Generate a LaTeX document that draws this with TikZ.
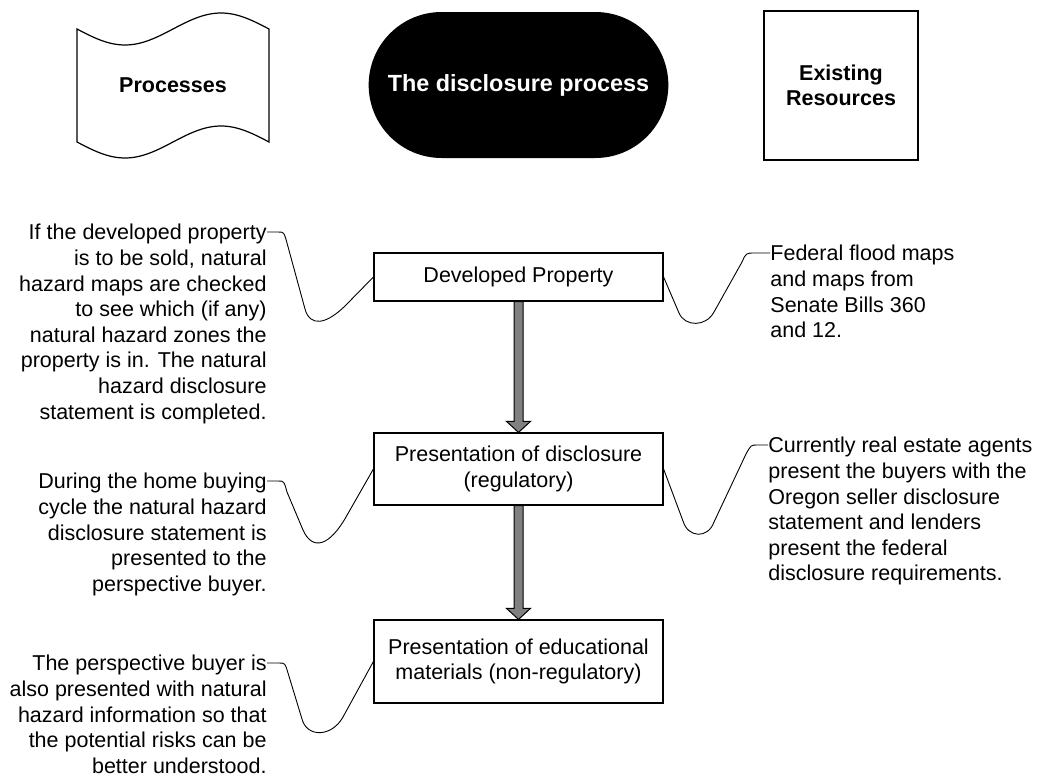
\documentclass[tikz,border=0pt]{standalone}
\usepackage{fontspec}
\setmainfont{Liberation Sans}
\usetikzlibrary{calc}
\usetikzlibrary{positioning}
\usetikzlibrary{shapes.misc}

% grey block arrow from the bottom of one box to the top of the next
\newcommand{\flowarrow}[2]{%
  \filldraw[fill=gray, draw=black, line width=0.5pt]
    ($(#1.south)+(-4.5,0)$) -- ($(#2.north)+(-4.5,-11)$) -- ($(#2.north)+(-12,-11)$)
    -- (#2.north) -- ($(#2.north)+(12,-11)$) -- ($(#2.north)+(4.5,-11)$)
    -- ($(#1.south)+(4.5,0)$) -- cycle;}

\begin{document}
\begin{tikzpicture}[x=0.5pt,y=-0.5pt,
  txt/.style={font=\fontsize{10.75pt}{12.8pt}\selectfont},
  toplabel/.style={font=\fontsize{10.75pt}{12.8pt}\selectfont\bfseries, align=center},
  procbox/.style={draw, line width=0.6pt, minimum width=144.5pt, align=center, txt},
  lnote/.style={txt, align=right, inner sep=0pt},
  rnote/.style={txt, align=left, inner sep=0pt},
  noteline/.style={line width=0.45pt}]

  \useasboundingbox (0,0) rectangle (1044,776);

  % top row
  \node[toplabel] (proc) at (173,85) {Processes};
  \draw[line width=0.6pt] (77,29) sin (125,45) cos (173,29) sin (221,13) cos (269,29)
    -- (269,142) sin (221,126) cos (173,142) sin (125,158) cos (77,142) -- cycle;

  \node[toplabel, font=\fontsize{11.7pt}{14pt}\selectfont\bfseries, rounded rectangle,
    fill=black, text=white, minimum width=156.5pt, minimum height=73pt] (start) at (518.5,85) {The disclosure process};

  \node[toplabel, draw, line width=0.6pt, minimum width=77pt,
    minimum height=74.5pt] (res) at (841,85.5) {Existing\\Resources};

  % process steps
  \node[procbox, minimum height=24pt] (dev) at (518.5,277) {Developed Property};
  \node[procbox, minimum height=36pt] (pres) at (518.5,469) {Presentation of disclosure\\(regulatory)};
  \node[procbox, minimum height=41.5pt] (edu) at (518.5,661.5) {Presentation of educational\\materials (non-regulatory)};

  \flowarrow{dev}{pres}
  \flowarrow{pres}{edu}

  % notes on the left
  \coordinate (e1) at (267,232);
  \node[lnote, below left=-4pt and 0pt of e1] (n1) {If the developed property\\is to be sold, natural\\hazard maps are checked\\to see which (if any)\\natural hazard zones the\\property is in. The natural\\hazard disclosure\\statement is completed.};
  \draw[noteline] (dev.west) -- (346,305) .. controls (326,325) and (310,327) .. (305,309)
    -- (287,243) .. controls (284,232) .. (278,232) -- (e1);

  \coordinate (e2) at (267,481);
  \node[lnote, below left=-4pt and 0pt of e2] (n2) {During the home buying\\cycle the natural hazard\\disclosure statement is\\presented to the\\perspective buyer.};
  \draw[noteline] (pres.west) -- (346,517) .. controls (330,545) and (313,552) .. (303,530)
    -- (287,492) .. controls (284,481) .. (278,481) -- (e2);

  \coordinate (e3) at (267,663);
  \node[lnote, below left=-4pt and 0pt of e3] (n3) {The perspective buyer is\\also presented with natural\\hazard information so that\\the potential risks can be\\better understood.};
  \draw[noteline] (edu.west) -- (343,717) .. controls (332,737) and (307,738) .. (302,719)
    -- (288,673) .. controls (285,663) .. (279,663) -- (e3);

  % notes on the right
  \coordinate (e4) at (770,253);
  \node[rnote, below right=-4pt and 0pt of e4] (n4) {Federal flood maps\\and maps from\\Senate Bills 360\\and 12.};
  \draw[noteline] (dev.east) -- (679,313) .. controls (685,327) and (706,327) .. (714,312)
    -- (742,262) .. controls (746,253) .. (755,253) -- (e4);

  \coordinate (e5) at (768,445);
  \node[rnote, below right=-4pt and 0pt of e5] (n5) {Currently real estate agents\\present the buyers with the\\Oregon seller disclosure\\statement and lenders\\present the federal\\disclosure requirements.};
  \draw[noteline] (pres.east) -- (683,521) .. controls (688,538) and (708,539) .. (714,522)
    -- (746,454) .. controls (751,445) .. (757,445) -- (e5);

\end{tikzpicture}
\end{document}
